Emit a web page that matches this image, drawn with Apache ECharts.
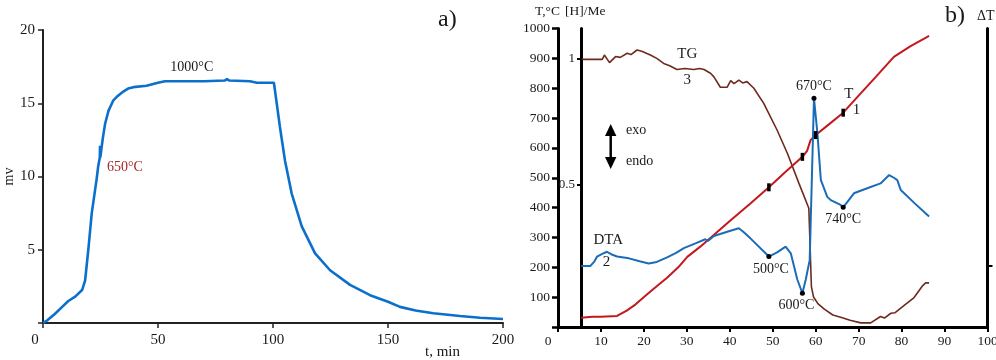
<!DOCTYPE html>
<html><head><meta charset="utf-8">
<script src="https://cdn.jsdelivr.net/npm/echarts@6/dist/echarts.min.js"></script>
<style>html,body{margin:0;padding:0;background:#fff}#c{width:996px;height:360px}</style>
</head><body><div id="c"></div>
<script>
// ---------- Panel a) : signal (mv) vs time ----------
const aTime = [0, 2, 5, 8, 11, 14, 17, 18.3, 19.7, 21.2, 23.3, 24.0, 24.7, 24.8, 24.9, 26, 27, 28.5, 30.6, 32.5, 34.9, 37, 39.3, 45, 50, 53, 60, 70, 79, 80, 81, 90, 93, 100.4, 103, 105.2, 108.1, 112.5, 118.3, 124.8, 133.5, 142.2, 150, 155.2, 162, 169.7, 181.3, 190, 200];
const aMv   = [0, 0.2, 0.6, 1.05, 1.5, 1.8, 2.25, 2.9, 5, 7.5, 9.8, 10.7, 11.3, 12.1, 11.3, 12.6, 13.6, 14.5, 15.2, 15.5, 15.8, 16.0, 16.1, 16.2, 16.4, 16.5, 16.5, 16.5, 16.55, 16.65, 16.55, 16.5, 16.4, 16.4, 13.4, 11.1, 8.85, 6.6, 4.75, 3.6, 2.6, 1.9, 1.45, 1.1, 0.85, 0.66, 0.48, 0.36, 0.27];
const aXTicks = [0, 50, 100, 150, 200];
const aYTicks = [5, 10, 15, 20];

// ---------- Panel b) : thermal analysis ----------
// curve 1: temperature T (°C)
const bTimeT = [5.4, 8, 10, 13.75, 16, 18, 19.95, 22, 25.4, 28, 30.1, 33.2, 36, 40, 44.8, 49.1, 53, 56.9, 58, 58.8, 60, 63, 66.4, 70, 74, 78.2, 82, 86.4];
const bTemp  = [31, 34, 34, 37, 55, 75, 100, 125, 165, 200, 235, 270, 305, 355, 414, 468, 520, 570, 590, 626, 643, 678, 718, 775, 838, 905, 940, 975];
const bTMarkTimes = [49.1, 56.9, 60, 66.4];
// curve 2: DTA (plotted on the ΔT axis, same scale as T)
const bTimeDTA = [5.4, 7.5, 8.5, 9.1, 10.3, 11.4, 12.5, 13.75, 16.5, 19, 21.1, 23, 25.4, 27.5, 29.3, 32, 34.3, 34.6, 34.9, 36.3, 39.4, 42.1, 43.2, 44.8, 49.1, 51, 53, 54.2, 55.7, 56.9, 57.7, 58.6, 59.6, 60.4, 61.2, 61.5, 62.7, 63.5, 65.8, 66.4, 68.9, 72, 75.1, 77.1, 78.2, 79, 79.8, 83, 86.4];
const bDTA     = [204, 204, 220, 236, 245, 252, 243, 236, 230, 220, 213, 218, 233, 248, 264, 280, 294, 300, 288, 305, 319, 331, 318, 297, 236, 250, 269, 247, 160, 113, 160, 224, 766, 649, 492, 481, 436, 425, 409, 401, 448, 465, 481, 509, 500, 492, 459, 415, 370];
const bDTAMarkTimes  = [49.1, 56.9, 59.6, 66.4];
const bDTAMarkLabels = ['500°C', '600°C', '670°C', '740°C'];
// curve 3: TG ([H]/Me)
const bTimeTG = [5.6, 10.3, 10.8, 12, 13.4, 14.5, 16.1, 17, 18.4, 19.5, 21.5, 23, 24.6, 26, 27.7, 29.5, 31.6, 33, 34, 35.5, 36.3, 37.8, 39.4, 40.2, 41, 42.1, 43, 44, 45.6, 47.9, 51, 53.4, 56.1, 58.4, 59.0, 59.5, 60.5, 62, 64, 66, 68, 70.5, 72.8, 75.1, 76, 77.5, 78.5, 79.8, 82.9, 84.8, 85.6, 86.4];
const bTG     = [0.996, 0.996, 1.013, 0.983, 1.007, 1.004, 1.020, 1.015, 1.033, 1.028, 1.013, 1.000, 0.980, 0.971, 0.956, 0.960, 0.956, 0.960, 0.956, 0.941, 0.927, 0.886, 0.886, 0.912, 0.900, 0.914, 0.903, 0.908, 0.882, 0.822, 0.717, 0.625, 0.506, 0.408, 0.098, 0.057, 0.031, 0.009, -0.014, -0.024, -0.035, -0.045, -0.045, -0.020, -0.026, -0.007, -0.005, 0.013, 0.055, 0.100, 0.113, 0.113];
const bXTicks = [0, 10, 20, 30, 40, 50, 60, 70, 80, 90, 100];
const bYTicks = [100, 200, 300, 400, 500, 600, 700, 800, 900, 1000];
const bHMeTicks = [0.5, 1];
const bDeltaTTicks = [204];

// ---------- helpers ----------
const zip = (xs, ys) => xs.map((x, i) => [x, ys[i]]);
const at = (xs, ys, x) => ys[xs.indexOf(x)];
const serif = 'Liberation Serif';
const ink = '#1a1a1a';
// [H]/Me axis: 1 sits at T=900, 0.5 at T=476 on the shared 0..1000 frame
const hmSlope = (900 - 476) / 0.5, hmZero = 900 - hmSlope;
const hmMin = (0 - hmZero) / hmSlope, hmMax = (1000 - hmZero) / hmSlope;

const textMark = (coord, text, extra) => ({
  coord, symbol: 'circle', symbolSize: 0,
  label: Object.assign({show: true, formatter: text, position: [0, 0], align: 'center', verticalAlign: 'middle',
    fontFamily: serif, fontSize: 14, color: ink}, extra || {})
});

const chart = echarts.init(document.getElementById('c'), null, {renderer: 'canvas'});
chart.setOption({
  animation: false,
  backgroundColor: '#fff',
  textStyle: {fontFamily: serif},
  grid: [
    {left: 43, top: 30, width: 460, height: 293, containLabel: false, outerBoundsMode: 'none'},
    {left: 558, top: 28.5, width: 429.5, height: 298.5, containLabel: false, outerBoundsMode: 'none'}
  ],
  xAxis: [
    {gridIndex: 0, type: 'value', min: aXTicks[0], max: aXTicks[aXTicks.length - 1], interval: 50,
      axisLine: {lineStyle: {color: '#222', width: 2}},
      axisTick: {length: 5, lineStyle: {color: '#222', width: 1.5}},
      splitLine: {show: false},
      axisLabel: {fontSize: 15, color: ink, margin: 10,
        formatter: v => v === 0 ? '{z|0}' : String(v),
        rich: {z: {padding: [0, 16, 0, 0], fontSize: 15, color: ink, fontFamily: serif}}},
      name: 't, min', nameLocation: 'end', nameGap: -43,
      nameTextStyle: {fontSize: 15, color: ink, align: 'right', verticalAlign: 'top', padding: [22, 0, 0, 0]}
    },
    {gridIndex: 1, type: 'value', min: bXTicks[0], max: bXTicks[bXTicks.length - 1], interval: 10,
      axisLine: {lineStyle: {color: '#000', width: 3}},
      axisTick: {length: 5, lineStyle: {color: '#000', width: 2}},
      splitLine: {show: false},
      axisLabel: {fontSize: 13.5, color: ink, margin: 7,
        formatter: v => v === 0 ? '{z|0}' : String(v),
        rich: {z: {padding: [0, 20, 0, 0], fontSize: 13.5, color: ink, fontFamily: serif}}},
      name: 't, min', nameLocation: 'end', nameGap: -7,
      nameTextStyle: {fontSize: 14, color: ink, align: 'right', verticalAlign: 'top', padding: [18, 0, 0, 0]}
    }
  ],
  yAxis: [
    {gridIndex: 0, type: 'value', min: 0, max: aYTicks[aYTicks.length - 1], interval: 5,
      axisLine: {show: true, lineStyle: {color: '#222', width: 2}},
      axisTick: {show: true, length: 5, lineStyle: {color: '#222', width: 1.5}},
      splitLine: {show: false},
      axisLabel: {fontSize: 15, color: ink, margin: 8, formatter: v => v === 0 ? '' : String(v)},
      name: 'mv', nameLocation: 'middle', nameGap: 24, nameRotate: 90,
      nameTextStyle: {fontSize: 14, color: ink}
    },
    {gridIndex: 1, type: 'value', position: 'left', min: 0, max: bYTicks[bYTicks.length - 1], interval: 100,
      axisLine: {show: true, lineStyle: {color: '#000', width: 3}},
      axisTick: {show: true, length: 6, lineStyle: {color: '#000', width: 2.5}},
      splitLine: {show: false},
      axisLabel: {fontSize: 13.5, color: ink, margin: 8, formatter: v => v === 0 ? '' : String(v)}
    },
    {gridIndex: 1, type: 'value', position: 'left', offset: -23, min: hmMin, max: hmMax,
      axisLine: {show: true, onZero: false, lineStyle: {color: '#000', width: 3}},
      axisTick: {show: true, length: 4, customValues: bHMeTicks, lineStyle: {color: '#000', width: 2}},
      splitLine: {show: false},
      axisLabel: {fontSize: 13, color: ink, margin: 6, customValues: bHMeTicks, formatter: v => String(v)}
    },
    {gridIndex: 1, type: 'value', position: 'right', min: 0, max: 1000,
      axisLine: {show: true, lineStyle: {color: '#000', width: 3}},
      axisTick: {show: true, length: 5, customValues: bDeltaTTicks, lineStyle: {color: '#000', width: 2}},
      axisLabel: {show: false},
      splitLine: {show: false}
    }
  ],
  series: [
    {type: 'line', name: 'a', xAxisIndex: 0, yAxisIndex: 0, data: zip(aTime, aMv),
      symbol: 'none', lineStyle: {color: '#0a70cb', width: 2.6}, z: 3,
      markPoint: {silent: true, data: [
        textMark([64.7, 17.43], '1000°C'),
        textMark([35.6, 10.6], '650°C', {color: '#a3282b'})
      ]}
    },
    {type: 'line', name: 'T', xAxisIndex: 1, yAxisIndex: 1, data: zip(bTimeT, bTemp),
      symbol: 'none', lineStyle: {color: '#c2191f', width: 2}, z: 3,
      markPoint: {silent: true, data: bTMarkTimes.map(t => ({
        coord: [t, at(bTimeT, bTemp, t)], symbol: 'rect', symbolSize: [3.5, 8],
        itemStyle: {color: '#000'}, label: {show: false}
      })).concat([
        textMark([67.7, 780], 'T', {fontSize: 15}),
        textMark([69.5, 727], '1', {fontSize: 15}),
        textMark([30.1, 914], 'TG', {fontSize: 15}),
        textMark([30.1, 827], '3', {fontSize: 15}),
        textMark([11.7, 291], 'DTA', {fontSize: 15}),
        textMark([11.3, 218], '2', {fontSize: 15})
      ])}
    },
    {type: 'line', name: 'DTA', xAxisIndex: 1, yAxisIndex: 3, data: zip(bTimeDTA, bDTA),
      symbol: 'none', lineStyle: {color: '#1b6cb6', width: 2}, z: 4,
      markPoint: {silent: true, data: bDTAMarkTimes.map((t, i) => ({
        coord: [t, at(bTimeDTA, bDTA, t)], symbol: 'circle', symbolSize: 5,
        itemStyle: {color: '#000'},
        label: {show: true, formatter: bDTAMarkLabels[i], fontFamily: serif, fontSize: 14, color: ink,
          position: i === 2 ? 'top' : 'bottom', distance: 3,
          offset: i === 1 ? [-6, 0] : (i === 0 ? [2, 0] : [0, 0])}
      }))}
    },
    {type: 'line', name: 'TG', xAxisIndex: 1, yAxisIndex: 2, data: zip(bTimeTG, bTG),
      symbol: 'none', lineStyle: {color: '#6e2a1e', width: 1.6}, z: 2}
  ],
  graphic: [
    {type: 'text', left: 438, top: 8, style: {text: 'a)', font: '24px "Liberation Serif"', fill: ink}},
    {type: 'text', left: 945, top: 4, style: {text: 'b)', font: '24px "Liberation Serif"', fill: ink}},
    {type: 'text', left: 535, top: 4, style: {text: 'T,°C', font: '13.5px "Liberation Serif"', fill: ink}},
    {type: 'text', left: 565, top: 4, style: {text: '[H]/Me', font: '13.5px "Liberation Serif"', fill: ink}},
    {type: 'text', left: 977, top: 9, style: {text: 'ΔT', font: '14px "Liberation Serif"', fill: ink}},
    {type: 'text', left: 626, top: 123, style: {text: 'exo', font: '14px "Liberation Serif"', fill: ink}},
    {type: 'text', left: 626, top: 154, style: {text: 'endo', font: '14px "Liberation Serif"', fill: ink}},
    {type: 'line', shape: {x1: 610.7, y1: 133, x2: 610.7, y2: 160}, style: {stroke: '#000', lineWidth: 2.5}},
    {type: 'polygon', shape: {points: [[605, 136], [616.4, 136], [610.7, 124]]}, style: {fill: '#000'}},
    {type: 'polygon', shape: {points: [[605, 157], [616.4, 157], [610.7, 169]]}, style: {fill: '#000'}}
  ]
});
</script>
</body></html>
